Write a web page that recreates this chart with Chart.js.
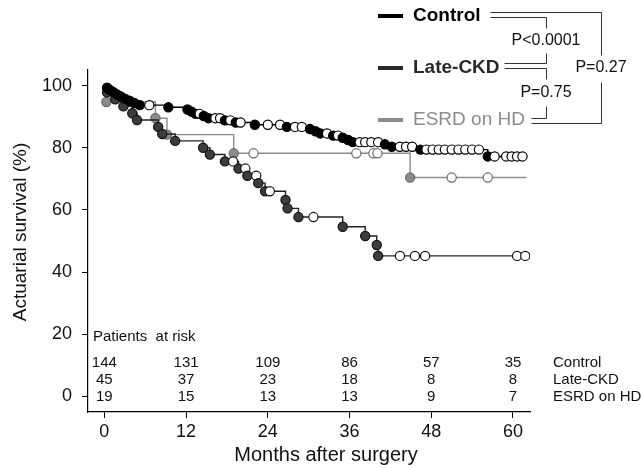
<!DOCTYPE html>
<html lang="en">
<head>
<meta charset="UTF-8">
<title>Actuarial survival after surgery</title>
<script src="https://cdn.jsdelivr.net/npm/chart.js"></script>
<style>
  html, body { margin: 0; padding: 0; background: #fff; }
</style>
</head>
<body>
<canvas id="km" width="643" height="468"></canvas>
<script>
const FONT = '"Liberation Sans", Arial, sans-serif';

const xTicks = [0, 12, 24, 36, 48, 60];
const yTicks = [0, 20, 40, 60, 80, 100];

const groupNames = ['Control', 'Late-CKD', 'ESRD on HD'];
const pLabels = ['P<0.0001', 'P=0.75', 'P=0.27'];
const xTitle = 'Months after surgery';
const yTitle = 'Actuarial survival (%)';

// patients at risk at 0, 12, 24, 36, 48, 60 months
const atRiskControl = [144, 131, 109, 86, 57, 35];
const atRiskLate = [45, 37, 23, 18, 8, 8];
const atRiskEsrd = [19, 15, 13, 13, 9, 7];

// Kaplan-Meier steps. marks: e = death (filled), c = censored (open), - = no marker
const controlMonths = [0, 0.4, 0.8, 1.3, 1.8, 2.4, 3.0, 3.7, 4.4, 5.2,
  6.6, 9.4, 12.2, 12.8, 13.4, 14.0, 14.6, 15.3, 16.3, 17.0,
  17.7, 18.5, 19.3, 20.0, 22.1, 24.0, 25.8, 26.8, 28.0, 29.0,
  30.2, 31.0, 31.7, 32.7, 33.6, 34.3, 35.0, 35.8, 36.5, 37.5,
  38.3, 39.2, 40.2, 41.2, 42.2, 43.4, 44.3, 45.2, 46.4, 47.3,
  48.2, 49.1, 50.0, 51.0, 52.0, 53.0, 54.0, 55.0, 56.3, 57.3,
  59.0, 59.8, 60.6, 61.4];
const controlSurvival = [100, 99.3, 98.6, 97.9, 97.2, 96.5, 95.8, 95.1, 94.4, 93.7,
  93.7, 93.0, 92.3, 91.6, 90.9, 90.9, 90.2, 89.5, 89.5, 89.5,
  88.8, 88.8, 88.1, 88.1, 87.4, 87.4, 87.4, 86.7, 86.7, 86.7,
  86.0, 85.3, 84.6, 84.6, 83.9, 83.9, 83.2, 82.5, 81.8, 81.8,
  81.8, 81.8, 81.8, 81.1, 80.3, 80.3, 80.3, 80.3, 79.4, 79.4,
  79.4, 79.4, 79.4, 79.4, 79.4, 79.4, 79.4, 79.4, 77.2, 77.2,
  77.2, 77.2, 77.2, 77.2];
const controlMarks = ('-eeeeeeeee' + 'ceeeeceecc' + 'ecececcecc' + 'eeececeeec' +
  'ccceecccec' + 'ccccccccec' + 'cccc').split('');

const lateMonths = [0, 0.4, 1.6, 2.8, 4.1, 4.8, 7.9, 8.5, 10.4, 14.5,
  15.5, 17.7, 18.9, 19.7, 20.7, 21.0, 22.3, 22.6, 23.6, 24.3,
  26.6, 26.9, 28.5, 30.7, 35.0, 38.3, 40.0, 40.2, 43.4, 45.6,
  47.1, 60.6, 61.8];
const lateSurvival = [100, 97.8, 95.6, 93.3, 91.1, 88.9, 86.7, 84.4, 82.2, 80.0,
  77.8, 75.6, 75.6, 73.3, 73.3, 71.0, 71.0, 68.6, 66.0, 66.0,
  63.2, 60.5, 57.7, 57.7, 54.6, 51.6, 48.7, 45.2, 45.2, 45.2,
  45.2, 45.2, 45.2];
const lateMarks = ('-eeeeeeeee' + 'eecececeec' + 'eeeceeeecc' + 'ccc').split('');

const esrdMonths = [0, 0.3, 7.5, 9.2, 19.0, 21.9, 37.0, 39.5, 40.1, 44.9, 51.0, 56.3, 62.0];
const esrdSurvival = [100, 94.7, 89.5, 84.2, 78.2, 78.2, 78.2, 78.2, 78.2, 70.4, 70.4, 70.4, 70.4];
const esrdMarks = '-eeeeccccecc-'.split('');

function kmDataset(label, months, surv, marks, line, fill, edge, order) {
  return {
    label,
    data: months.map((m, i) => ({ x: m, y: surv[i] })),
    stepped: 'before',
    borderColor: line,
    borderWidth: 1.4,
    pointStyle: 'circle',
    pointRadius: marks.map(k => k === '-' ? 0 : 4.6),
    pointBackgroundColor: marks.map(k => k === 'c' ? '#fff' : fill),
    pointBorderColor: edge,
    pointBorderWidth: 1.2,
    order
  };
}

const tablePlugin = {
  id: 'atRisk',
  afterDraw(chart) {
    const ctx = chart.ctx;
    const xs = chart.scales.x, ys = chart.scales.y;
    ctx.save();
    ctx.fillStyle = '#111';
    ctx.font = '15px ' + FONT;
    ctx.textBaseline = 'middle';
    ctx.textAlign = 'left';
    ctx.fillText('Patients  at risk', chart.chartArea.left + 5, ys.getPixelForValue(19.2));
    const rows = [atRiskControl, atRiskLate, atRiskEsrd];
    const rowY = [10.9, 5.4, 0];
    rows.forEach((row, r) => {
      const y = ys.getPixelForValue(rowY[r]);
      ctx.textAlign = 'center';
      row.forEach((n, i) => ctx.fillText(String(n), xs.getPixelForValue(xTicks[i]), y));
      ctx.textAlign = 'left';
      ctx.fillText(groupNames[r], chart.chartArea.right + 23, y);
    });

    // axis titles
    ctx.textAlign = 'center';
    ctx.font = '20px ' + FONT;
    ctx.fillText(xTitle, 326, 455);
    ctx.translate(21, 232);
    ctx.rotate(-Math.PI / 2);
    ctx.font = '19px ' + FONT;
    ctx.fillText(yTitle, 0, 0);
    ctx.restore();
  }
};

const legendPlugin = {
  id: 'bracketLegend',
  afterDraw(chart) {
    const ctx = chart.ctx;
    const rowY = [16, 68, 120];
    const colors = ['#000', '#2a2a2a', '#8c8c8c'];
    const weights = ['bold ', 'bold ', ''];
    ctx.save();
    ctx.textBaseline = 'middle';
    groupNames.forEach((name, i) => {
      ctx.strokeStyle = colors[i];
      ctx.lineWidth = 4;
      ctx.beginPath();
      ctx.moveTo(378, rowY[i]);
      ctx.lineTo(403, rowY[i]);
      ctx.stroke();
      ctx.fillStyle = colors[i];
      ctx.font = weights[i] + '19px ' + FONT;
      ctx.textAlign = 'left';
      ctx.fillText(name, 413, rowY[i]);
    });

    ctx.strokeStyle = '#333';
    ctx.lineWidth = 1;
    const seg = (pts) => {
      ctx.beginPath();
      ctx.moveTo(pts[0][0] + 0.5, pts[0][1] + 0.5);
      for (let k = 1; k < pts.length; k++) ctx.lineTo(pts[k][0] + 0.5, pts[k][1] + 0.5);
      ctx.stroke();
    };
    // outer bracket Control - ESRD
    seg([[490, 12], [601, 12], [601, 55]]);
    seg([[531, 123], [601, 123], [601, 82]]);
    // Control - Late-CKD
    seg([[490, 17], [546, 17], [546, 28]]);
    seg([[504, 63], [546, 63], [546, 53]]);
    // Late-CKD - ESRD
    seg([[504, 68], [546, 68], [546, 79]]);
    seg([[531, 118], [546, 118], [546, 106]]);

    ctx.fillStyle = '#111';
    ctx.font = '16px ' + FONT;
    ctx.textAlign = 'center';
    ctx.fillText(pLabels[0], 546, 41);
    ctx.fillText(pLabels[1], 546, 93);
    ctx.fillText(pLabels[2], 601, 68);
    ctx.restore();
  }
};

new Chart(document.getElementById('km'), {
  type: 'line',
  data: {
    datasets: [
      kmDataset('Control', controlMonths, controlSurvival, controlMarks, '#000', '#000', '#000', 1),
      kmDataset('Late-CKD', lateMonths, lateSurvival, lateMarks, '#222', '#3c3c3c', '#111', 2),
      kmDataset('ESRD on HD', esrdMonths, esrdSurvival, esrdMarks, '#8c8c8c', '#8c8c8c', '#6a6a6a', 3)
    ]
  },
  options: {
    responsive: false,
    animation: false,
    layout: { padding: { left: 0, top: 70, right: 113, bottom: 0 } },
    plugins: { legend: { display: false }, tooltip: { enabled: false } },
    scales: {
      x: {
        type: 'linear',
        min: -2.4,
        max: 62.5,
        afterBuildTicks: s => { s.ticks = xTicks.map(v => ({ value: v })); },
        afterFit: s => { s.height = 56; },
        grid: { display: true, drawOnChartArea: false, drawTicks: true, tickLength: 6, color: '#000' },
        border: { display: true, color: '#000', width: 1.2 },
        ticks: { color: '#111', font: { family: FONT, size: 18 }, padding: 3, maxRotation: 0 }
      },
      y: {
        min: -5,
        max: 105,
        afterBuildTicks: s => { s.ticks = yTicks.map(v => ({ value: v })); },
        afterFit: s => { s.width = 88; },
        grid: { display: true, drawOnChartArea: false, drawTicks: true, tickLength: 6, color: '#000' },
        border: { display: true, color: '#000', width: 1.2 },
        ticks: { color: '#111', font: { family: FONT, size: 18 }, padding: 10 }
      }
    }
  },
  plugins: [tablePlugin, legendPlugin]
});
</script>
</body>
</html>
